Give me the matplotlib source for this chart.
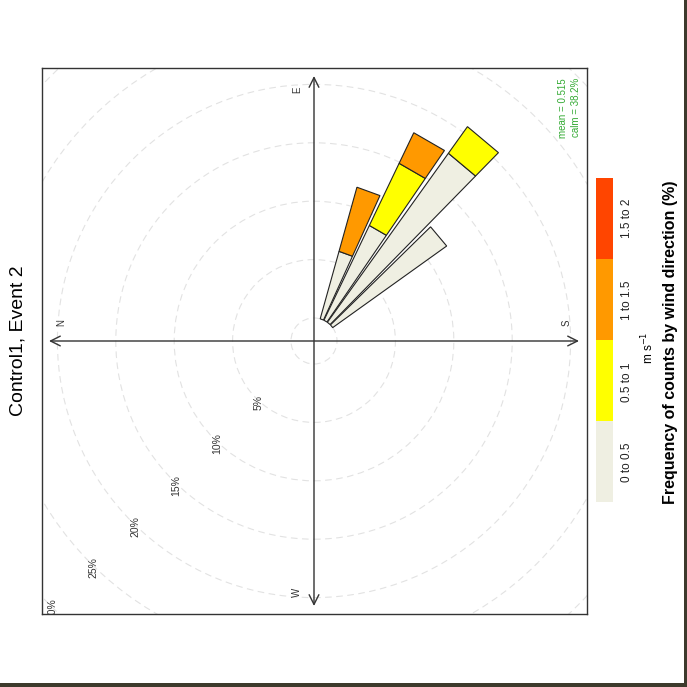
import numpy as np
import matplotlib
matplotlib.use('Agg')
import matplotlib.pyplot as plt
from matplotlib.patches import Polygon, Circle, Rectangle

plt.rcParams['font.family'] = ['Liberation Sans', 'DejaVu Sans']

# wind rose data (direction in degrees, frequency in % per speed bin)
directions = [110, 120, 130, 140]
speed_bins = ['0 to 0.5', '0.5 to 1', '1 to 1.5', '1.5 to 2']
freq_0_05 = [6.0, 9.0, 17.8, 12.0]
freq_05_1 = [0.0, 5.9, 2.8, 0.0]
freq_1_15 = [5.7, 2.9, 0.0, 0.0]
freq_15_2 = [0.0, 0.0, 0.0, 0.0]
grid_pcts = [5, 10, 15, 20, 25, 30]
mean_ws = 0.515
calm_pct = 38.2

bin_cols = ['#EFEFE2', '#FFFF00', '#FF9900', '#FF4500']

W = H = 687
fig = plt.figure(figsize=(6.87, 6.87), dpi=100)

def fx(x):
    return x / W

def fy(y):
    return 1 - y / H

# plot panel (picture is rotated: N left, E up)
ax = fig.add_axes([fx(42), fy(614), 545 / W, 546 / H])
scale = 11.68   # px per percent
off = 1.97      # hole in the middle
ax.set_xlim(-272 / scale, 273 / scale)
ax.set_ylim(-273 / scale, 273 / scale)
ax.set_xticks([])
ax.set_yticks([])
for s in ax.spines.values():
    s.set_color('#333333')
    s.set_linewidth(1.0)

def to_xy(theta, r):
    a = np.radians(theta)
    return -np.cos(a) * r, np.sin(a) * r

def wedge(theta, r0, r1, half=4.4):
    a = np.array([theta - half, theta + half])
    ox, oy = to_xy(a, r1)
    ix, iy = to_xy(a[::-1], r0)
    return np.column_stack([np.r_[ox, ix], np.r_[oy, iy]])

# grid circles
for p in [0] + grid_pcts:
    ax.add_patch(Circle((0, 0), off + p, fill=False, ec='#e2e2e2', lw=0.8,
                        ls=(0, (6, 4)), zorder=1))
for p in grid_pcts:
    r = off + p
    ax.text(-r * 0.7071 + 2.5 / scale, -r * 0.7071 - 4 / scale, f'{p}%',
            rotation=90, ha='center', va='center', fontsize=7.5,
            color='#333333', clip_on=True, zorder=2)

# axis arrows
arr = dict(arrowstyle='<->,head_length=0.7,head_width=0.35', color='#333333',
           lw=1.0, shrinkA=0, shrinkB=0)
L = 265 / scale
ax.annotate('', xy=(L, 0), xytext=(-L, 0), arrowprops=arr, zorder=3)
ax.annotate('', xy=(0, L), xytext=(0, -L), arrowprops=arr, zorder=3)
for lab, (x, y) in zip(['N', 'E', 'S', 'W'],
                       [(-21.6, 1.55), (-1.45, 21.5), (21.65, 1.6), (-1.45, -21.5)]):
    ax.text(x, y, lab, rotation=90, ha='center', va='center', fontsize=7,
            color='#333333')

# bars
series = [freq_0_05, freq_05_1, freq_1_15, freq_15_2]
for i, d in enumerate(directions):
    base = 0.0
    for vals, col in zip(series, bin_cols):
        v = vals[i]
        if v <= 0:
            continue
        ax.add_patch(Polygon(wedge(d, off + base, off + base + v), closed=True,
                             fc=col, ec='#222222', lw=0.8, zorder=4))
        base += v

fig.text(fx(563), fy(78), f'mean = {mean_ws}', rotation=90, ha='center',
         va='top', fontsize=7, color='#33aa33')
fig.text(fx(576), fy(78), f'calm = {calm_pct}%', rotation=90, ha='center',
         va='top', fontsize=7, color='#33aa33')

# title
fig.text(fx(18), fy(341), 'Control1, Event 2', rotation=90, ha='center',
         va='center', fontsize=14)

# colour key
cax = fig.add_axes([fx(596), fy(502), 17 / W, 324 / H])
for i, col in enumerate(bin_cols):
    cax.bar(0, 1, bottom=i, width=1, color=col)
cax.set_xlim(-0.5, 0.5)
cax.set_ylim(0, 4)
cax.axis('off')
key_y = [462, 382, 300, 218]
for lab, y in zip(speed_bins, key_y):
    fig.text(fx(627), fy(y), lab, rotation=90, ha='center', va='center',
             fontsize=8.5, color='#222222')
fig.text(fx(648), fy(348), 'm s$^{-1}$', rotation=90, ha='center',
         va='center', fontsize=8.5)
fig.text(fx(671), fy(342), 'Frequency of counts by wind direction (%)',
         rotation=90, ha='center', va='center', fontsize=11.5, fontweight='bold')

# dark border strips of the photo
fig.patches.append(Rectangle((0, 0), 1, 4 / H, transform=fig.transFigure,
                             fc='#3d3a2c', ec='none'))
fig.patches.append(Rectangle((fx(684), 0), 3 / W, 1, transform=fig.transFigure,
                             fc='#3d3a2c', ec='none'))

fig.savefig('out.png', dpi=100)
